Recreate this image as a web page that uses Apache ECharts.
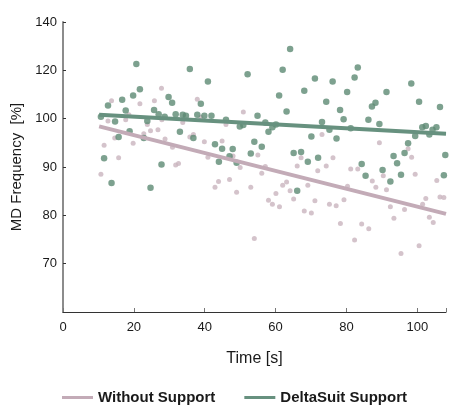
<!DOCTYPE html>
<html>
<head>
<meta charset="utf-8">
<script src="https://cdn.jsdelivr.net/npm/echarts@6/dist/echarts.min.js"></script>
<style>
html,body{margin:0;padding:0;background:#fff;}
#chart{width:449px;height:407px;}
</style>
</head>
<body>
<div id="chart"></div>
<script>
// Series values [time s, MD frequency] (y in the axis' linear tick units)
var deltaSuitPoints = [
[20.7,111.3],[35.8,110.3],[21.7,106.1],[19.8,104.8],[16.7,103.9],[12.7,102.7],[29.8,104.5],[30.8,103.3],
[17.7,101.7],[25.7,101.8],[27.0,100.9],[31.8,100.9],[10.7,100.4],[28.7,100.4],[14.7,99.4],[23.8,99.5],
[18.8,97.4],[15.7,96.2],[22.8,96.0],[11.6,91.8],[27.8,90.5],[13.7,86.7],[24.7,85.7],
[64.1,114.4],[52.1,109.2],[62.0,110.1],[71.1,108.3],[40.9,107.7],[68.1,105.8],[61.0,104.8],[38.9,103.1],
[63.1,101.5],[33.8,100.8],[34.7,100.6],[37.9,100.8],[39.9,100.6],[41.9,100.6],[54.9,100.6],[46.0,99.8],
[49.9,98.4],[50.9,98.7],[57.1,99.2],[59.1,98.2],[60.1,98.8],[58.0,97.3],[33.0,97.3],[36.8,96.0],
[42.9,94.7],[44.9,93.8],[47.9,93.7],[54.0,95.2],[56.1,94.2],[70.1,96.3],[47.0,92.2],[53.0,92.8],
[65.1,92.9],[67.2,93.1],[72.0,91.9],[44.0,91.1],[49.0,90.9],[69.1,91.1],[66.1,85.1],
[83.2,110.6],[76.1,107.7],[82.3,108.5],[80.2,105.5],[91.3,105.5],[98.3,107.3],[74.3,103.5],[100.5,103.5],
[88.2,103.3],[87.2,102.5],[106.4,102.4],[78.2,101.8],[79.2,99.9],[86.2,99.8],[89.3,98.9],[73.1,99.3],
[75.2,97.7],[81.2,98.0],[77.2,95.9],[101.4,98.2],[102.4,98.5],[104.3,97.7],[105.4,98.2],[103.4,96.7],
[99.4,96.4],[97.4,94.9],[96.4,92.9],[93.3,92.3],[94.3,90.8],[84.3,90.6],[90.2,89.4],[107.9,92.5],
[85.4,88.2],[92.4,87.0],[95.4,88.4],[107.5,88.3]
];
var withoutSupportPoints = [
[27.8,106.3],[13.7,103.7],[21.7,103.1],[25.8,103.7],[18.6,100.8],[12.7,99.5],[17.7,99.8],[27.9,99.8],
[23.8,98.8],[24.7,97.5],[26.8,97.7],[22.8,96.9],[14.6,96.0],[28.8,95.8],[11.6,94.5],[19.8,94.9],
[30.9,94.1],[15.7,91.9],[31.8,90.4],[32.6,90.7],[10.7,88.5],
[37.9,104.0],[50.9,101.4],[33.8,99.2],[38.9,100.3],[46.0,98.8],[36.8,96.7],[35.8,96.2],[39.9,95.2],
[44.9,95.4],[48.0,92.3],[55.0,92.5],[67.2,91.9],[40.9,92.0],[50.0,89.9],[57.1,90.1],[66.1,90.2],
[56.1,88.7],[71.9,89.2],[47.0,87.4],[43.9,87.0],[42.9,85.8],[53.0,85.8],[49.0,84.8],[63.1,86.9],
[62.0,86.2],[69.1,86.2],[64.1,85.1],[60.1,84.5],[65.1,83.4],[71.1,83.0],[58.0,83.1],[59.1,82.3],
[61.1,81.8],[68.1,80.9],[70.1,80.5],[54.0,75.2],
[73.1,96.7],[89.3,95.0],[97.4,93.8],[98.4,92.0],[76.2,91.9],[74.3,90.2],[81.2,89.6],[83.2,89.6],
[90.4,88.2],[99.4,88.5],[105.5,87.2],[87.3,87.1],[88.3,85.8],[91.3,85.3],[80.3,86.0],[102.4,83.5],
[106.4,83.8],[107.5,83.7],[75.2,82.3],[77.1,82.0],[79.3,83.2],[92.4,81.8],[96.4,81.2],[101.5,82.3],
[93.4,79.4],[103.4,79.6],[104.5,78.5],[78.3,78.3],[84.3,78.2],[86.3,77.2],[82.3,74.9],[100.5,73.7],
[95.4,72.1]
];
// Regression line endpoints
var deltaSuitFit = [[10.2,100.8],[108.1,96.9]];
var withoutSupportFit = [[10.2,98.4],[108.1,80.3]];
// Tick labels
var xTickValues = [0,20,40,60,80,100];
var yTickValues = [60,70,80,90,100,110,120];
var yTickLabels = ['','70','80','90','100','120','140'];

var seriesNames = ['Without Support','DeltaSuit Support'];
var pinkDot = '#c9b4be', pinkLine = '#c3abb7';
var greenDot = '#5c8a73', greenLine = '#67917f';
var FONT = '"Liberation Sans", Arial, Helvetica, sans-serif';

var chart = echarts.init(document.getElementById('chart'), null, {renderer:'canvas'});
chart.setOption({
  animation:false,
  backgroundColor:'#fff',
  textStyle:{fontFamily:FONT},
  grid:{left:63, right:0, top:22, bottom:95, containLabel:false},
  legend:{
    data:[{name:seriesNames[0], icon:'rect', itemStyle:{color:pinkLine}},
          {name:seriesNames[1], icon:'rect', itemStyle:{color:greenLine}}],
    left:62, top:390, itemWidth:31, itemHeight:3, itemGap:29, padding:0,
    textStyle:{fontFamily:FONT, fontSize:15, fontWeight:'bold', color:'#1a1a1a'}
  },
  xAxis:{
    type:'value', min:0, max:108.1, interval:20,
    name:'Time [s]', nameLocation:'middle', nameGap:39,
    nameTextStyle:{fontSize:16, color:'#1a1a1a', fontFamily:FONT},
    axisLine:{show:true, onZero:false, lineStyle:{color:'#333', width:1}},
    axisTick:{show:true, inside:true, length:4, lineStyle:{color:'#777'}},
    axisLabel:{fontSize:13, color:'#1a1a1a', margin:9, fontFamily:FONT,
      formatter:function(v){ return xTickValues.indexOf(v)>=0 ? String(v) : ''; }},
    splitLine:{show:false}
  },
  yAxis:{
    type:'value', min:60, max:120, interval:10,
    name:'MD Frequency  [%]', nameLocation:'middle', nameGap:38,
    nameTextStyle:{fontSize:15, color:'#1a1a1a', fontFamily:FONT},
    axisLine:{show:true, onZero:false, lineStyle:{color:'#8c8c8c', width:2}},
    axisTick:{show:true, inside:true, length:3, lineStyle:{color:'#333'}},
    axisLabel:{fontSize:13, color:'#1a1a1a', margin:6, fontFamily:FONT,
      formatter:function(v){ var i = yTickValues.indexOf(v); return i>=0 ? yTickLabels[i] : ''; }},
    splitLine:{show:false}
  },
  series:[
    {type:'scatter', name:'ws_points', data:withoutSupportPoints, symbolSize:5,
     itemStyle:{color:pinkDot}, silent:true, z:2},
    {type:'scatter', name:'ds_points', data:deltaSuitPoints, symbolSize:6.5,
     itemStyle:{color:greenDot}, silent:true, z:3},
    {type:'line', name:seriesNames[0], data:withoutSupportFit, symbol:'none',
     lineStyle:{color:pinkLine, width:4}, itemStyle:{color:pinkLine}, z:4},
    {type:'line', name:seriesNames[1], data:deltaSuitFit, symbol:'none',
     lineStyle:{color:greenLine, width:4}, itemStyle:{color:greenLine}, z:5}
  ]
});
</script>
</body>
</html>
